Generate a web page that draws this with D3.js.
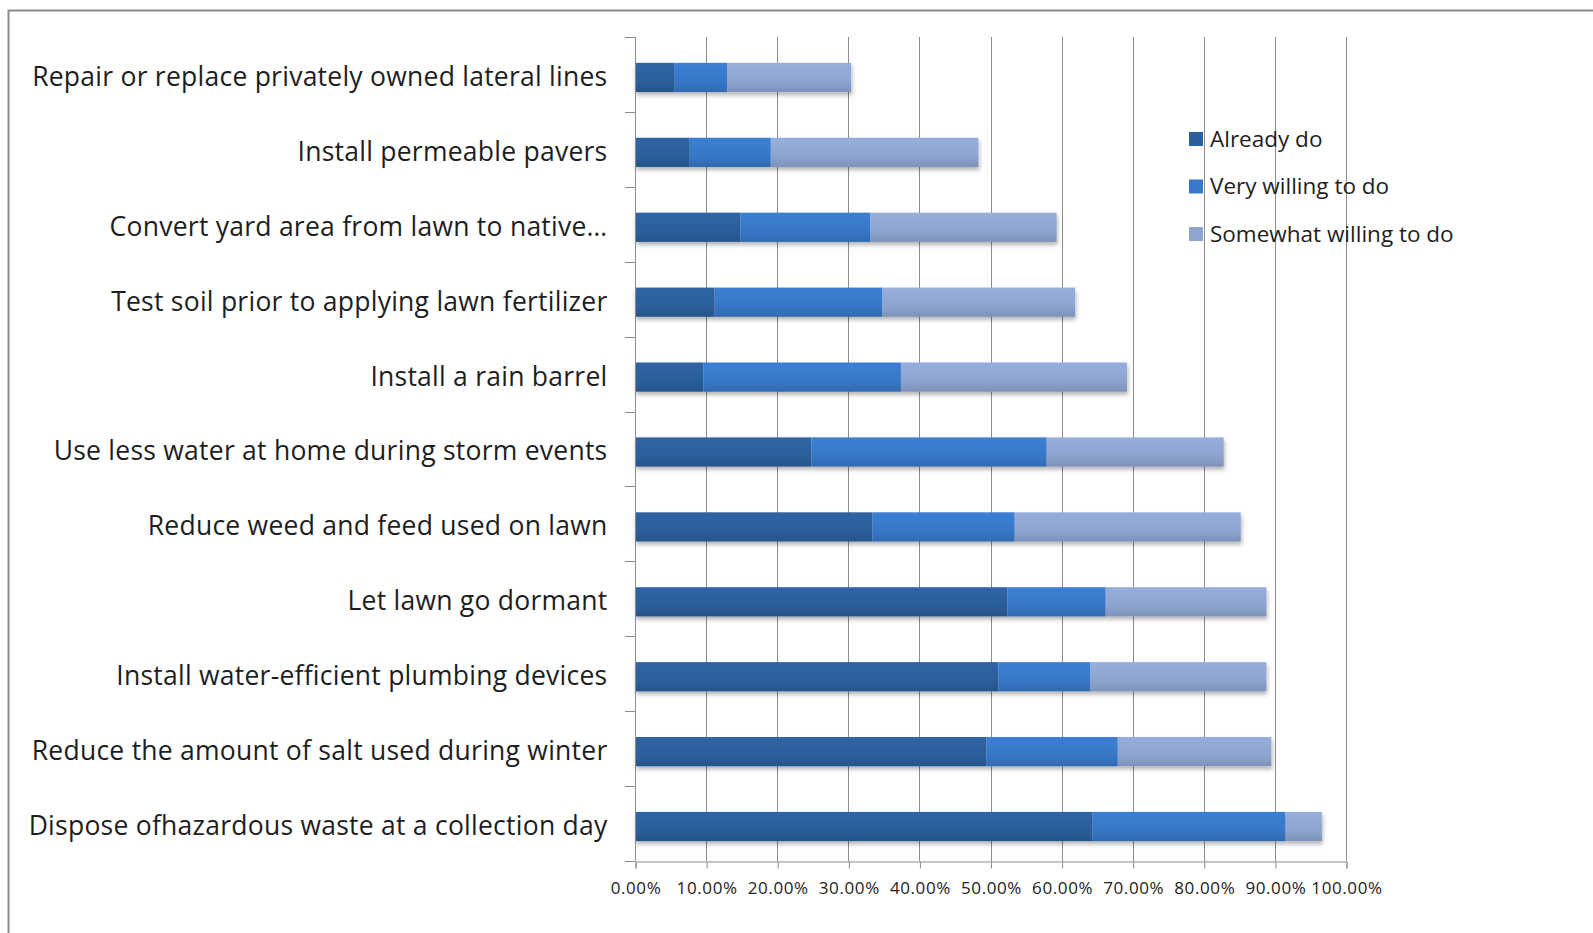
<!DOCTYPE html>
<html><head><meta charset="utf-8">
<script src="https://cdn.jsdelivr.net/npm/d3@7/dist/d3.min.js"></script>
<style>
html,body{margin:0;padding:0;background:#fff;}
svg{display:block;}
</style></head>
<body>
<script>
const categories = [
  "Repair or replace privately owned lateral lines",
  "Install permeable pavers",
  "Convert yard area from lawn to native\u2026",
  "Test soil prior to applying lawn fertilizer",
  "Install a rain barrel",
  "Use less water at home during storm events",
  "Reduce weed and feed used on lawn",
  "Let lawn go dormant",
  "Install water-efficient plumbing devices",
  "Reduce the amount of salt used during winter",
  "Dispose ofhazardous waste at a collection day"
];
const seriesNames = ["Already do", "Very willing to do", "Somewhat willing to do"];
const alreadyDo   = [5.5, 7.7, 14.8, 11.2, 9.6, 24.8, 33.4, 52.4, 51.1, 49.4, 64.3];
const veryWilling = [7.5, 11.4, 18.3, 23.6, 27.8, 33.1, 20.0, 13.8, 12.9, 18.5, 27.2];
const somewhat    = [17.4, 29.2, 26.2, 27.1, 31.8, 24.9, 31.8, 22.6, 24.8, 21.6, 5.1];
const xTicks = [0,10,20,30,40,50,60,70,80,90,100];

(function () {
const W = 1593, H = 933;
const svg = d3.select("body").append("svg").attr("width", W).attr("height", H);

const defs = svg.append("defs");
const baseColors = ["#2c5f9c", "#3878c8", "#8ea5d0"];
baseColors.forEach((c, i) => {
  const g = defs.append("linearGradient").attr("id", "g" + i)
    .attr("x1", 0).attr("y1", 0).attr("x2", 0).attr("y2", 1);
  const col = d3.color(c);
  g.append("stop").attr("offset", "0%").attr("stop-color", col.brighter(0.15));
  g.append("stop").attr("offset", "60%").attr("stop-color", col);
  g.append("stop").attr("offset", "100%").attr("stop-color", col.darker(0.35));
});
const f = defs.append("filter").attr("id", "shadow").attr("x", "-5%").attr("y", "-20%").attr("width", "110%").attr("height", "160%");
f.append("feDropShadow").attr("dx", 1).attr("dy", 3).attr("stdDeviation", 2).attr("flood-color", "#000").attr("flood-opacity", 0.3);

// outer border
svg.append("path").attr("d", `M8.5,${H} L8.5,10.5 L${W},10.5`).attr("fill", "none").attr("stroke", "#8a8a8a").attr("stroke-width", 2);

const pLeft = 635, pRight = 1346, pTop = 37, pBottom = 861;
const x = d3.scaleLinear().domain([0, 100]).range([pLeft, pRight]);
const y = d3.scaleBand().domain(categories).range([pTop, pBottom]).paddingInner(0.61).paddingOuter(0.305);

// gridlines
svg.append("g").selectAll("line").data(xTicks.slice(1)).join("line")
  .attr("x1", d => Math.round(x(d)) + 0.5).attr("x2", d => Math.round(x(d)) + 0.5)
  .attr("y1", pTop).attr("y2", pBottom)
  .attr("stroke", "#8c8c8c").attr("stroke-width", 1);

// stacked bars
const rows = categories.map((c, i) => ({cat: c, v: [alreadyDo[i], veryWilling[i], somewhat[i]]}));
const gBars = svg.append("g").attr("transform", "translate(0,3)");
rows.forEach(r => {
  const gr = gBars.append("g").attr("filter", "url(#shadow)");
  let acc = 0;
  r.v.forEach((v, k) => {
    gr.append("rect")
      .attr("x", x(acc)).attr("width", x(acc + v) - x(acc))
      .attr("y", y(r.cat)).attr("height", y.bandwidth())
      .attr("fill", `url(#g${k})`);
    acc += v;
  });
});

// y axis
const yAxis = d3.axisLeft(y).tickSize(0).tickPadding(28);
const ya = svg.append("g").attr("transform", `translate(${pLeft + 0.5},3)`).call(yAxis);
ya.select(".domain").remove();
ya.selectAll("text").attr("font-family", "'Open Sans', sans-serif").attr("font-size", 26.5)
  .attr("letter-spacing", "0.25px").attr("fill", "#1e1e1e");
svg.append("line").attr("x1", pLeft + 0.5).attr("x2", pLeft + 0.5).attr("y1", pTop).attr("y2", pBottom).attr("stroke", "#8c8c8c");
const catTicks = d3.range(categories.length + 1).map(i => pTop + i * (pBottom - pTop) / categories.length);
svg.append("g").selectAll("line").data(catTicks).join("line")
  .attr("x1", pLeft - 10).attr("x2", pLeft).attr("y1", d => Math.round(d) + 0.5).attr("y2", d => Math.round(d) + 0.5)
  .attr("stroke", "#8c8c8c");

// x axis
const xAxis = d3.axisBottom(x).tickValues(xTicks).tickFormat(d => d.toFixed(2) + "%").tickSize(7).tickPadding(13);
const xa = svg.append("g").attr("transform", `translate(0.5,${pBottom + 0.5})`).call(xAxis);
xa.select(".domain").attr("stroke", "#8c8c8c");
xa.selectAll(".tick line").attr("stroke", "#8c8c8c");
xa.selectAll("text").attr("font-family", "'Open Sans', sans-serif").attr("font-size", 17).attr("fill", "#222").attr("letter-spacing", "0.6px");

// legend
const lg = svg.append("g").attr("transform", "translate(1189,139)");
seriesNames.forEach((n, i) => {
  const g = lg.append("g").attr("transform", `translate(0,${i * 47.5})`);
  g.append("rect").attr("x", 0).attr("y", -7).attr("width", 14).attr("height", 14).attr("fill", baseColors[i]);
  g.append("text").attr("x", 21).attr("y", 0).attr("dy", "0.35em")
    .attr("font-family", "'Open Sans', sans-serif").attr("font-size", 22.5).attr("fill", "#1e1e1e").text(n);
});
})();
</script>
</body></html>
